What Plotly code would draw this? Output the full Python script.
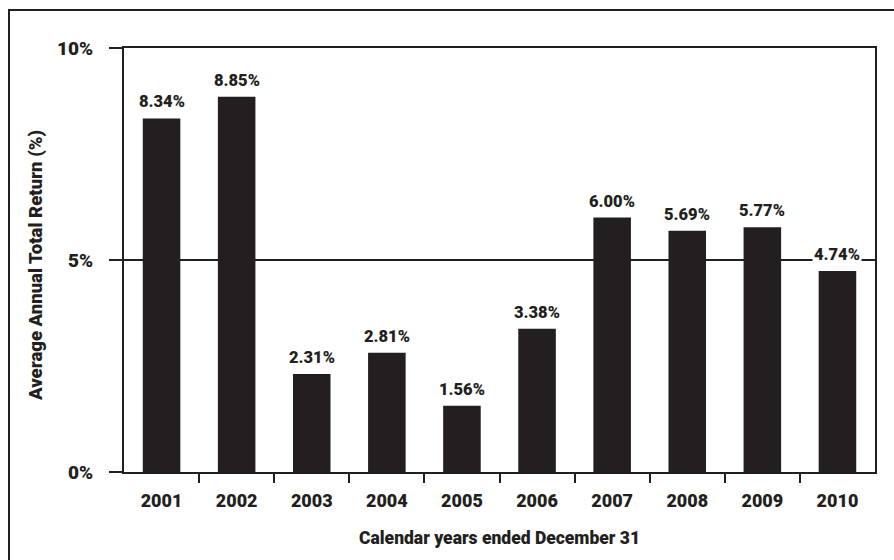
import plotly.graph_objects as go

# Average annual total return by calendar year
years = [2001, 2002, 2003, 2004, 2005, 2006, 2007, 2008, 2009, 2010]
returns = [8.34, 8.85, 2.31, 2.81, 1.56, 3.38, 6.00, 5.69, 5.77, 4.74]
y_ticks = [0, 5, 10]
y_tick_labels = ["0%", "5%", "10%"]
x_title = "Calendar years ended December 31"
y_title = "Average Annual Total Return (%)"

INK = "#231f20"
FONT = "Roboto, Liberation Sans, sans-serif"
WEIGHT = 900

W, H = 894, 560
L, R, T, B = 124, 19, 48, 88
plot_w = W - L - R
plot_h = H - T - B


def px_to_paper_x(px):
    return (px - L) / plot_w


def px_to_paper_y(py):
    return (H - B - py) / plot_h


def font(size):
    return dict(family=FONT, size=size, color=INK, weight=WEIGHT)


fig = go.Figure()
fig.add_trace(go.Bar(
    x=years, y=returns, width=0.5,
    marker=dict(color=INK, line=dict(width=0)),
    hoverinfo="skip",
))

# value labels above each bar (white backing so they sit cleanly over the 5% rule)
for yr, v in zip(years, returns):
    fig.add_annotation(
        x=yr, y=v, xref="x", yref="y",
        text=f"{v:.2f}%", showarrow=False,
        yanchor="bottom", yshift=5,
        font=font(16.5),
        bgcolor="white", borderpad=1,
    )

lo, hi = years[0] - 0.5, years[-1] + 0.5
boundaries = [y + 0.5 for y in years[:-1]]

fig.update_layout(
    width=W, height=H,
    margin=dict(l=L, r=R, t=T, b=B),
    paper_bgcolor="white", plot_bgcolor="white",
    showlegend=False,
    font=dict(family=FONT, color=INK),
    xaxis=dict(
        range=[lo, hi], tickvals=years, ticktext=[str(y) for y in years],
        ticks="", showgrid=False, zeroline=False,
        showline=True, mirror=True, linecolor=INK, linewidth=2,
        tickfont=font(18),
        ticklabelstandoff=11,
        minor=dict(tickvals=boundaries, ticks="outside", ticklen=9,
                   tickwidth=2, tickcolor=INK, showgrid=False),
    ),
    yaxis=dict(
        range=[0, 10], tickvals=y_ticks, ticktext=y_tick_labels,
        ticks="outside", ticklen=13, tickwidth=2, tickcolor=INK,
        showgrid=True, gridcolor=INK, gridwidth=2, zeroline=False,
        showline=True, mirror=True, linecolor=INK, linewidth=2,
        tickfont=font(19),
        ticklabelstandoff=12,
    ),
)

# axis titles
fig.add_annotation(
    x=px_to_paper_x(499), y=px_to_paper_y(538), xref="paper", yref="paper",
    xanchor="center", yanchor="middle",
    text=x_title, showarrow=False,
    font=font(17.5),
)
fig.add_annotation(
    x=px_to_paper_x(36), y=px_to_paper_y(266), xref="paper", yref="paper",
    xanchor="center", yanchor="middle",
    text=y_title, showarrow=False, textangle=-90,
    font=font(18.5),
)

# outer frame running off the right and bottom edges
fig.add_shape(
    type="rect", xref="paper", yref="paper",
    x0=px_to_paper_x(9), x1=px_to_paper_x(W + 20),
    y0=px_to_paper_y(H + 20), y1=px_to_paper_y(10),
    line=dict(color=INK, width=2), fillcolor="rgba(0,0,0,0)", layer="below",
)

fig.write_html("out.html")
